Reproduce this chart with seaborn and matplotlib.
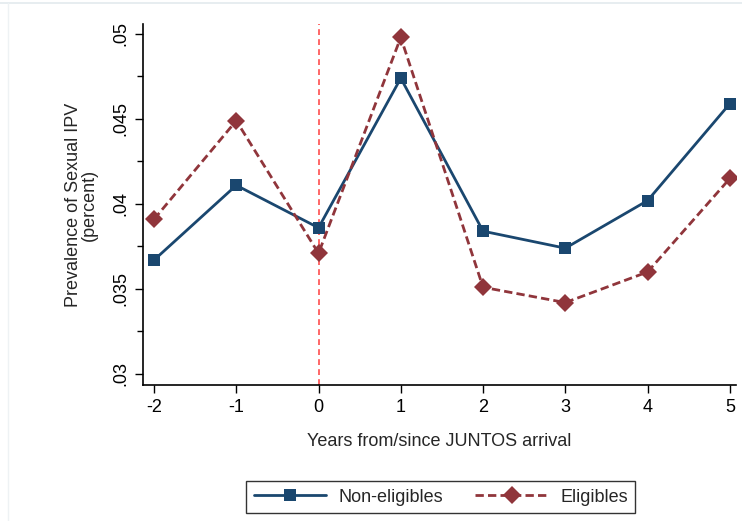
import matplotlib
matplotlib.use("Agg")
import matplotlib.pyplot as plt
import seaborn as sns
import pandas as pd
from matplotlib.ticker import FixedLocator, FuncFormatter
from matplotlib.lines import Line2D

years = [-2, -1, 0, 1, 2, 3, 4, 5]
non_eligibles = [0.0367, 0.0411, 0.0386, 0.0474, 0.0384, 0.0374, 0.0402, 0.0459]
eligibles = [0.0391, 0.0449, 0.0371, 0.0498, 0.0351, 0.0342, 0.0360, 0.0415]
y_ticks = [0.03, 0.035, 0.04, 0.045, 0.05]

df = pd.DataFrame({
    "year": years * 2,
    "value": non_eligibles + eligibles,
    "group": ["Non-eligibles"] * len(years) + ["Eligibles"] * len(years),
})

sns.set_theme(style="white")
plt.rcParams["font.family"] = ["Liberation Sans", "DejaVu Sans"]

fig = plt.figure(figsize=(7.42, 5.21), dpi=100)
ax = fig.add_axes([0.1927, 0.261, 0.799, 0.693])

# faint outer frame lines
fig.add_artist(Line2D([0, 1], [0.994, 0.994], transform=fig.transFigure,
                      color="#e3eaee", linewidth=1.2))
fig.add_artist(Line2D([0.011, 0.011], [0, 0.994], transform=fig.transFigure,
                      color="#eef2f4", linewidth=1.0))

blue = "#1a476f"
red = "#90353b"

ax.axvline(0, color="#ff4d4d", linestyle=(0, (3.5, 2.5)), linewidth=1.2, zorder=1)

sns.lineplot(data=df, x="year", y="value", hue="group", style="group",
             palette={"Non-eligibles": blue, "Eligibles": red},
             dashes={"Non-eligibles": "", "Eligibles": (3, 1.5)},
             markers={"Non-eligibles": "s", "Eligibles": "D"},
             markersize=9, markeredgewidth=0, linewidth=2.0, ax=ax, legend=True)

ax.set_xlim(-2.134, 5.073)
ax.set_ylim(0.02935, 0.05059)
ax.set_xticks(years)
ax.set_xticklabels([str(y) for y in years])
ax.yaxis.set_major_locator(FixedLocator(y_ticks))
ax.yaxis.set_minor_locator(FixedLocator([0.0325, 0.0375, 0.0425, 0.0475]))
ax.yaxis.set_major_formatter(FuncFormatter(lambda v, p: ("%g" % v).lstrip("0")))
for lab in ax.get_yticklabels():
    lab.set_rotation(90)
    lab.set_va("center")
ax.tick_params(axis="both", which="major", direction="out", length=6, width=1,
               colors="black", labelsize=13, left=True, bottom=True, pad=4)
ax.tick_params(axis="y", which="minor", direction="out", length=4, width=1,
               colors="black", left=True)
for s in ["top", "right"]:
    ax.spines[s].set_visible(False)
for s in ["left", "bottom"]:
    ax.spines[s].set_color("black")
    ax.spines[s].set_linewidth(1.2)

ax.set_xlabel("Years from/since JUNTOS arrival", fontsize=13, labelpad=12)
ax.set_ylabel("Prevalence of Sexual IPV\n(percent)", fontsize=13, labelpad=10,
              linespacing=0.95)

handles, labels = ax.get_legend_handles_labels()
ax.get_legend().remove()
leg = fig.legend(handles, labels, loc="center", bbox_to_anchor=(0.594, 0.046),
                 ncol=2, frameon=True, fontsize=13, fancybox=False,
                 handlelength=4.0, columnspacing=1.8, borderpad=0.4,
                 handletextpad=0.7)
leg.get_frame().set_edgecolor("black")
leg.get_frame().set_linewidth(1.0)

fig.savefig("out.png", dpi=100, facecolor="white")
